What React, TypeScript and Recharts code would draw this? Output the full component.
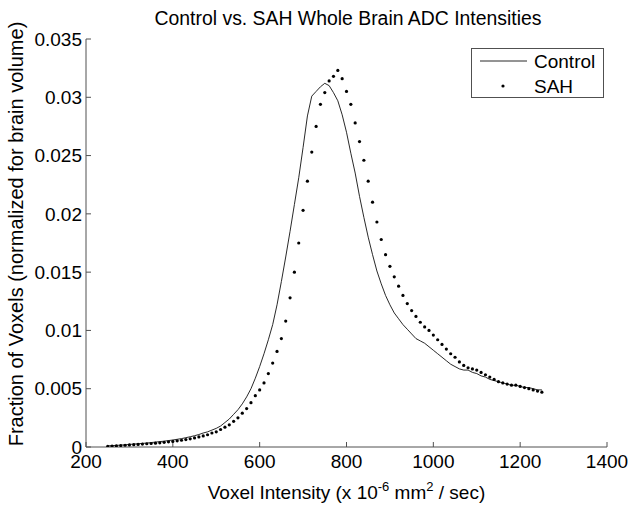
import React from 'react';
import { LineChart, Line, XAxis, YAxis } from 'recharts';

const intensity = [
  250, 260, 270, 280, 290, 300, 310, 320, 330, 340, 350, 360, 370, 380, 390, 400, 410, 420, 430, 440,
  450, 460, 470, 480, 490, 500, 510, 520, 530, 540, 550, 560, 570, 580, 590, 600, 610, 620, 630, 640,
  650, 660, 670, 680, 690, 700, 710, 720, 730, 740, 750, 760, 770, 780, 790, 800, 810, 820, 830, 840,
  850, 860, 870, 880, 890, 900, 910, 920, 930, 940, 950, 960, 970, 980, 990, 1000, 1010, 1020, 1030, 1040,
  1050, 1060, 1070, 1080, 1090, 1100, 1110, 1120, 1130, 1140, 1150, 1160, 1170, 1180, 1190, 1200, 1210, 1220, 1230, 1240,
  1250,
];

const controlFraction = [
  0.0001, 0.00012, 0.00014, 0.00016, 0.00019, 0.00022, 0.00025, 0.00028, 0.00031, 0.00034,
  0.00038, 0.00042, 0.00046, 0.0005, 0.00055, 0.0006, 0.00066, 0.00072, 0.0008, 0.00088,
  0.00097, 0.00107, 0.0012, 0.0013, 0.00145, 0.0016, 0.0018, 0.0021, 0.0024, 0.0028,
  0.0032, 0.0037, 0.0043, 0.005, 0.0059, 0.0069, 0.008, 0.0092, 0.0105, 0.0122,
  0.0142, 0.0163, 0.0185, 0.0208, 0.0231, 0.0257, 0.0284, 0.0301, 0.0305, 0.0309,
  0.0312, 0.031, 0.0304, 0.0297, 0.0285, 0.027, 0.0252, 0.0235, 0.0215, 0.0197,
  0.018, 0.0165, 0.0151, 0.014, 0.013, 0.0122, 0.0115, 0.011, 0.0105, 0.0101,
  0.0097, 0.0093, 0.0091, 0.0089, 0.0086, 0.0083, 0.008, 0.0077, 0.0074, 0.0071,
  0.0069, 0.0067, 0.0066, 0.0066, 0.0064, 0.0063, 0.0061, 0.006, 0.0058, 0.0057,
  0.0056, 0.0055, 0.0054, 0.0053, 0.0053, 0.0052, 0.0051, 0.0051, 0.005, 0.0049,
  0.0049,
];

const sahFraction = [
  0.00005, 0.00007, 0.0001, 0.00012, 0.00015, 0.00018, 0.0002, 0.00022, 0.00025, 0.00028,
  0.0003, 0.00033, 0.00036, 0.0004, 0.00044, 0.00048, 0.00053, 0.00058, 0.00064, 0.0007,
  0.00078, 0.00086, 0.00095, 0.00105, 0.0012, 0.0013, 0.0015, 0.0017, 0.0019, 0.0022,
  0.0025, 0.0029, 0.0033, 0.0038, 0.0044, 0.0049, 0.0055, 0.0063, 0.0072, 0.0082,
  0.0093, 0.0108, 0.0128, 0.015, 0.0175, 0.0203, 0.0228, 0.0253, 0.0275, 0.0294,
  0.0304, 0.0314, 0.0318, 0.0323, 0.0316, 0.0305, 0.0294, 0.0278, 0.0262, 0.0246,
  0.0228, 0.021, 0.0193, 0.0178, 0.0165, 0.0155, 0.0146, 0.0138, 0.013, 0.0123,
  0.0117, 0.0112, 0.0107, 0.0103, 0.01, 0.0096, 0.0092, 0.0088, 0.0084, 0.008,
  0.0077, 0.0073, 0.007, 0.0068, 0.0067, 0.0066, 0.0064, 0.0062, 0.006, 0.0058,
  0.0056, 0.0055, 0.0054, 0.0053, 0.0053, 0.0052, 0.0051, 0.005, 0.0049, 0.0048,
  0.0047,
];

const xTicks = [200, 400, 600, 800, 1000, 1200, 1400];
const yTicks = [0, 0.005, 0.01, 0.015, 0.02, 0.025, 0.03, 0.035];
const yTickLabels = ['0', '0.005', '0.01', '0.015', '0.02', '0.025', '0.03', '0.035'];

const seriesNames = ['Control', 'SAH'];
const titleText = 'Control vs. SAH Whole Brain ADC Intensities';

const data = intensity.map((x, i) => ({ x, control: controlFraction[i], sah: sahFraction[i] }));

const FONT = '"Liberation Sans", Arial, Helvetica, sans-serif';
const AXIS = '#505050';
const FS = 19;

const XLabel = (props: any) => {
  const vb = props.viewBox || {};
  const cx = vb.x + vb.width / 2;
  return (
    <text x={cx} y={499} textAnchor="middle" fontFamily={FONT} fontSize={FS} fill="#000">
      <tspan>Voxel Intensity (x 10</tspan>
      <tspan fontSize={13} dy={-8}>-6</tspan>
      <tspan dy={8}> mm</tspan>
      <tspan fontSize={13} dy={-8}>2</tspan>
      <tspan dy={8}> / sec)</tspan>
    </text>
  );
};

const YLabel = (props: any) => {
  const vb = props.viewBox || {};
  const cy = vb.y + vb.height / 2 - 9;
  return (
    <text
      x={23}
      y={cy}
      transform={`rotate(-90, 23, ${cy})`}
      textAnchor="middle"
      fontFamily={FONT}
      fontSize={20}
      fill="#000"
    >
      Fraction of Voxels (normalized for brain volume)
    </text>
  );
};

export default function App() {
  return (
    <div style={{ position: 'absolute', left: 0, top: 0, width: 630, height: 505, background: '#fff' }}>
      <div
        style={{
          position: 'absolute',
          left: 86,
          width: 524,
          top: 6,
          textAlign: 'center',
          fontFamily: FONT,
          fontSize: 19.4,
          lineHeight: '24px',
          color: '#000',
        }}
      >
        {titleText}
      </div>
      <LineChart
        width={630}
        height={505}
        data={data}
        margin={{ top: 39, right: 23, bottom: 0, left: 0 }}
      >
        <XAxis
          xAxisId="main"
          type="number"
          dataKey="x"
          domain={[200, 1400]}
          ticks={xTicks}
          allowDataOverflow
          height={58}
          stroke={AXIS}
          tickSize={-5}
          tickMargin={13}
          tick={{ fontFamily: FONT, fontSize: FS, fill: '#000' }}
          tickLine={{ stroke: AXIS }}
          label={<XLabel />}
        />
        <XAxis
          xAxisId="top"
          orientation="top"
          type="number"
          dataKey="x"
          domain={[200, 1400]}
          ticks={xTicks}
          allowDataOverflow
          height={0}
          stroke={AXIS}
          tickSize={-5}
          tick={false}
          tickLine={{ stroke: AXIS }}
        />
        <YAxis
          yAxisId="main"
          type="number"
          domain={[0, 0.035]}
          ticks={yTicks}
          allowDataOverflow
          width={86}
          stroke={AXIS}
          tickSize={-5}
          tickMargin={9}
          tick={{ fontFamily: FONT, fontSize: FS, fill: '#000' }}
          tickLine={{ stroke: AXIS }}
          tickFormatter={(v: number) => yTickLabels[yTicks.indexOf(v)] ?? String(v)}
          label={<YLabel />}
        />
        <YAxis
          yAxisId="right"
          orientation="right"
          type="number"
          domain={[0, 0.035]}
          ticks={yTicks}
          allowDataOverflow
          width={0}
          stroke={AXIS}
          tickSize={-5}
          tick={false}
          tickLine={{ stroke: AXIS }}
        />
        <Line
          xAxisId="main"
          yAxisId="main"
          dataKey="control"
          name={seriesNames[0]}
          type="linear"
          stroke="#111"
          strokeWidth={0.9}
          dot={false}
          isAnimationActive={false}
        />
        <Line
          xAxisId="main"
          yAxisId="main"
          dataKey="sah"
          name={seriesNames[1]}
          type="linear"
          stroke="none"
          strokeWidth={0}
          dot={{ r: 1.6, fill: '#000', stroke: 'none' }}
          isAnimationActive={false}
        />
      </LineChart>
      <div
        style={{
          position: 'absolute',
          left: 471,
          top: 48,
          width: 131,
          height: 48,
          border: `1px solid ${AXIS}`,
          background: '#fff',
          fontFamily: FONT,
          fontSize: FS,
          color: '#000',
        }}
      >
        <svg width={131} height={48} style={{ position: 'absolute', left: 0, top: 0 }}>
          <line x1={8} x2={55} y1={12} y2={12} stroke="#111" strokeWidth={0.9} />
          <circle cx={31} cy={37} r={1.6} fill="#000" />
          <text x={62} y={19} fontFamily={FONT} fontSize={FS} fill="#000">{seriesNames[0]}</text>
          <text x={62} y={44} fontFamily={FONT} fontSize={FS} fill="#000">{seriesNames[1]}</text>
        </svg>
      </div>
    </div>
  );
}
